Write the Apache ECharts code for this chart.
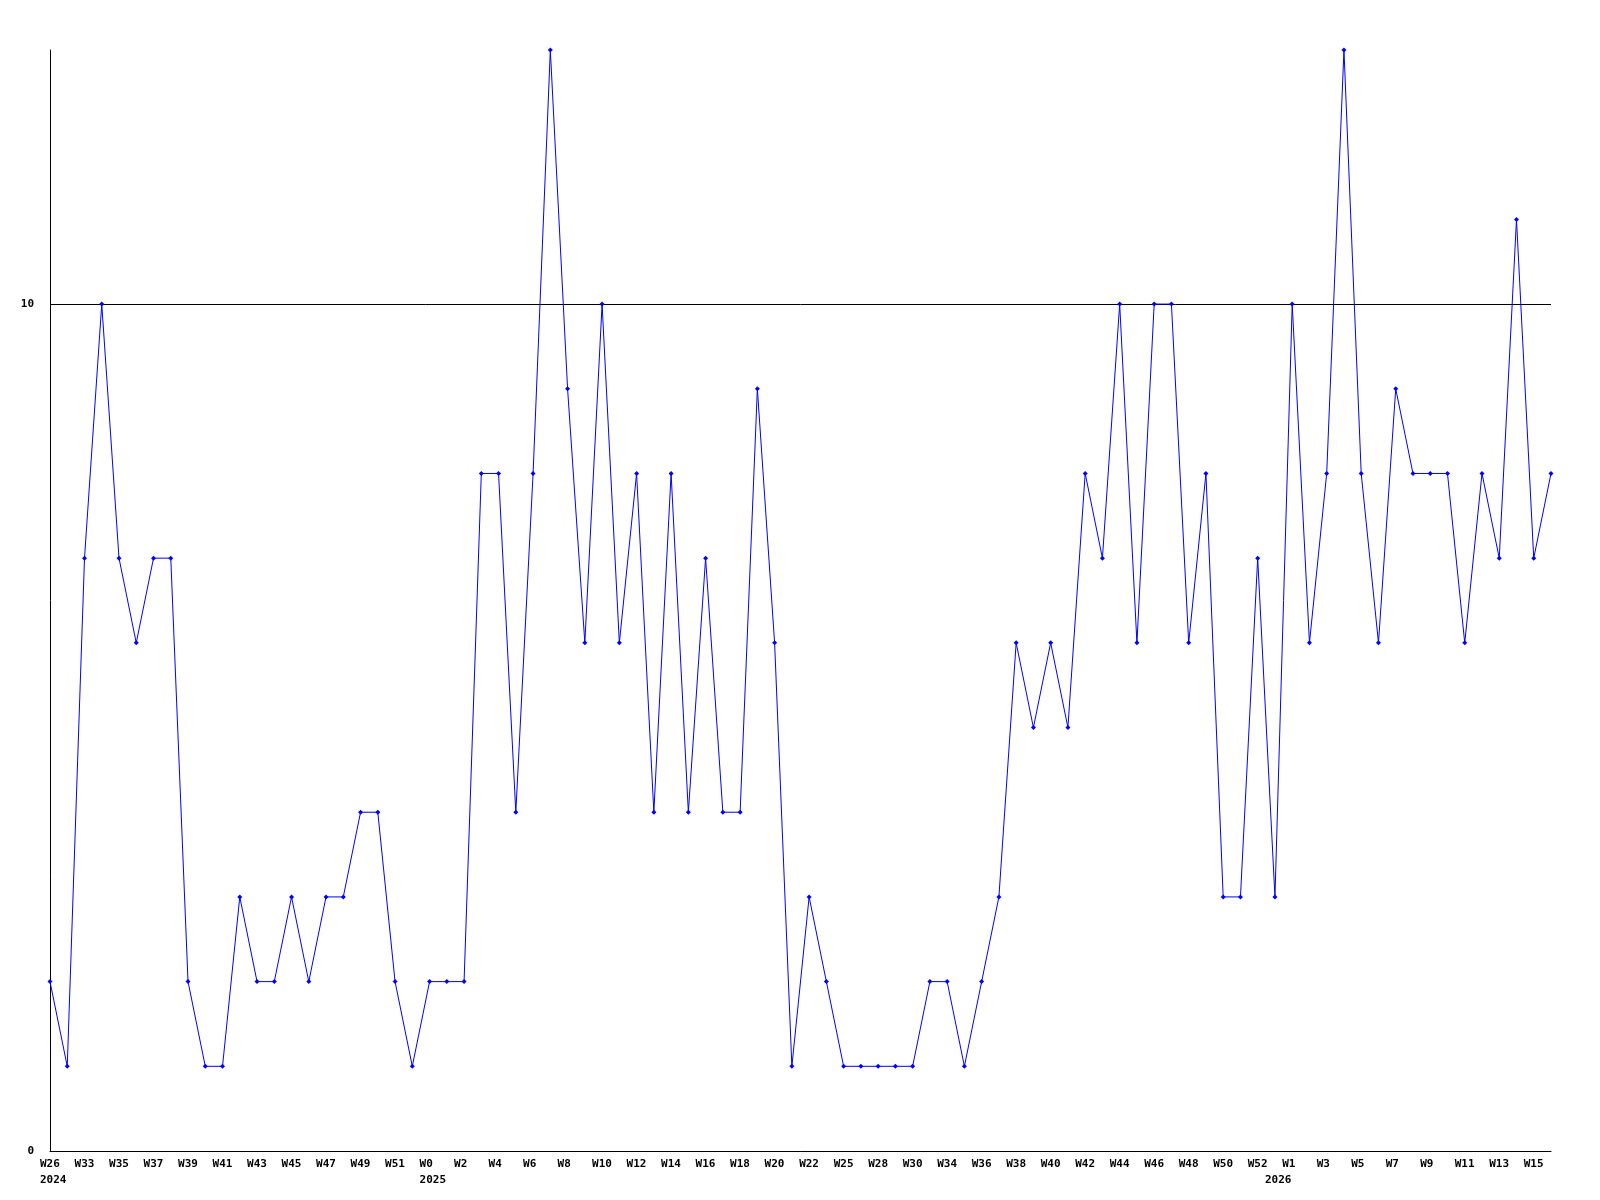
<!DOCTYPE html>
<html>
<head>
<meta charset="utf-8">
<script src="https://cdn.jsdelivr.net/npm/echarts@6/dist/echarts.min.js"></script>
<style>
  html, body { margin: 0; padding: 0; background: #fff; }
  #chart { width: 1600px; height: 1200px; }
</style>
</head>
<body>
<div id="chart"></div>
<script>
// labels under every other point
const weekLabels = ["W26", "W33", "W35", "W37", "W39", "W41", "W43", "W45", "W47", "W49", "W51",
  "W0", "W2", "W4", "W6", "W8", "W10", "W12", "W14", "W16", "W18", "W20", "W22", "W25", "W28",
  "W30", "W34", "W36", "W38", "W40", "W42", "W44", "W46", "W48", "W50", "W52",
  "W1", "W3", "W5", "W7", "W9", "W11", "W13", "W15"];
// year names sit under the first point of each year
const yearLabels = { 0: "2024", 22: "2025", 71: "2026" };

const values = [
  2, 1, 7, 10, 7, 6, 7, 7, 2, 1,
  1, 3, 2, 2, 3, 2, 3, 3, 4, 4,
  2, 1, 2, 2, 2, 8, 8, 4, 8, 13,
  9, 6, 10, 6, 8, 4, 8, 4, 7, 4,
  4, 9, 6, 1, 3, 2, 1, 1, 1, 1,
  1, 2, 2, 1, 2, 3, 6, 5, 6, 5,
  8, 7, 10, 6, 10, 10, 6, 8, 3, 3,
  7, 3, 10, 6, 8, 13, 8, 6, 9, 8,
  8, 8, 6, 8, 7, 11, 7, 8
];

// build categories: labelled points get their week name, the ones between stay blank
let categories = [];
for (let i = 0; i < values.length; i++) {
  categories.push(i % 2 === 0 ? weekLabels[i / 2] : "");
}

const font = "'DejaVu Sans Mono', monospace";

let option = {
  animation: false,
  backgroundColor: "#fff",
  grid: { left: 50, right: 49, top: 50, bottom: 49 },
  xAxis: {
    type: "category",
    data: categories,
    boundaryGap: false,
    axisLine: { show: true, lineStyle: { color: "#000", width: 1 } },
    axisTick: { show: false },
    splitLine: { show: false },
    axisLabel: {
      interval: 0,
      margin: 5,
      align: "left",
      padding: [0, 0, 0, -10],
      color: "#000",
      fontFamily: font,
      fontWeight: "bold",
      fontSize: 11,
      lineHeight: 16,
      formatter: function (val, idx) {
        if (yearLabels[idx]) return val + "\n" + yearLabels[idx];
        return val;
      }
    }
  },
  yAxis: {
    type: "value",
    min: 0,
    max: 13,
    interval: 10,
    axisLine: { show: true, lineStyle: { color: "#000", width: 1 } },
    axisTick: { show: false },
    splitLine: {
      show: true,
      lineStyle: { color: ["#000", "#000", "rgba(0,0,0,0)"], width: 1 }
    },
    axisLabel: {
      showMaxLabel: false,
      margin: 16,
      color: "#000",
      fontFamily: font,
      fontWeight: "bold",
      fontSize: 11
    }
  },
  series: [
    {
      type: "line",
      data: values,
      symbol: "diamond",
      symbolSize: 5,
      showSymbol: true,
      lineStyle: { color: "#0000ff", width: 1 },
      itemStyle: { color: "#0000ff" }
    }
  ]
};

let myChart = echarts.init(document.getElementById("chart"));
myChart.setOption(option);
</script>
</body>
</html>
